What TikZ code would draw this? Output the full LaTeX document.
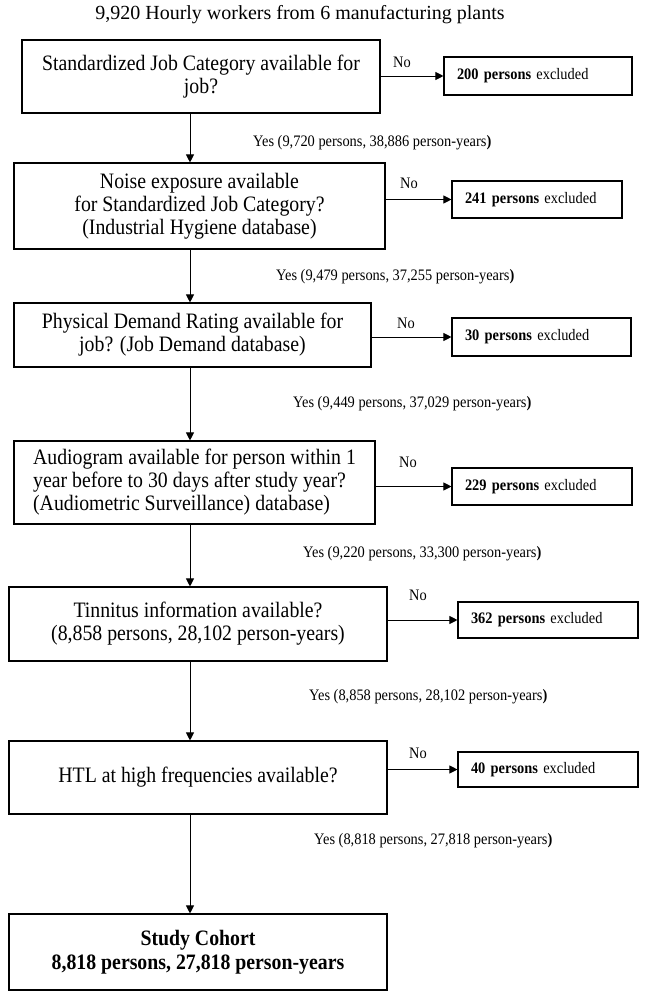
\documentclass[tikz,border=0pt]{standalone}
\usepackage{fontspec}
\setmainfont{Liberation Serif}
\newfontfamily\condfont[FakeStretch=0.9]{Liberation Serif}
\usetikzlibrary{arrows.meta}

\begin{document}
\begin{tikzpicture}[x=1pt, y=-1pt,
    stepbox/.style={draw, line width=1.1pt, align=center, inner sep=0pt, font=\condfont\fontsize{22}{23}\selectfont},
    exclbox/.style={draw, line width=1.1pt, align=left, inner xsep=13pt, inner ysep=0pt, font=\condfont\fontsize{16}{18}\selectfont},
    lbl/.style={inner sep=0pt, font=\condfont\fontsize{16}{18}\selectfont},
    arr/.style={line width=0.9pt, -{Triangle[length=8pt,width=8pt]}}]
  \useasboundingbox (0,0) rectangle (647,1000);

  \node[inner sep=0pt, font=\fontsize{20}{24}\selectfont] (title) at (300,15) {9,920 Hourly workers from 6 manufacturing plants};
  \coordinate (spine) at (190,0);

  % main column
  \node[stepbox, minimum width=358pt, minimum height=73pt] (B1) at (201,76.5) {Standardized Job Category available for\\job?};
  \node[stepbox, minimum width=371pt, minimum height=86pt] (B2) at (199.5,206) {Noise exposure available\\for Standardized Job Category?\\(Industrial Hygiene database)};
  \node[stepbox, minimum width=357pt, minimum height=64pt] (B3) at (192.5,335) {Physical Demand Rating available for\\job? (Job Demand database)};
  \node[stepbox, align=left, minimum width=361pt, minimum height=83pt] (B4) at (194.5,482.5) {Audiogram available for person within 1\\year before to 30 days after study year?\\(Audiometric Surveillance) database)};
  \node[stepbox, minimum width=378pt, minimum height=74pt] (B5) at (198,624) {Tinnitus information available?\\(8,858 persons, 28,102 person-years)};
  \node[stepbox, minimum width=378pt, minimum height=73pt] (B6) at (198,777.5) {HTL at high frequencies available?};
  \node[stepbox, minimum width=378pt, minimum height=76pt, font=\condfont\fontsize{22}{24}\selectfont\bfseries] (B7) at (198,952) {Study Cohort\\8,818 persons, 27,818 person-years};

  % exclusions
  \node[exclbox, text width=162pt, minimum height=38pt] (E1) at (538,76) {\textbf{200 persons} excluded};
  \node[exclbox, text width=144pt, minimum height=37pt] (E2) at (537,199.5) {\textbf{241 persons} excluded};
  \node[exclbox, text width=153pt, minimum height=38pt] (E3) at (541.5,337) {\textbf{30 persons} excluded};
  \node[exclbox, text width=154pt, minimum height=37pt] (E4) at (542,486.5) {\textbf{229 persons} excluded};
  \node[exclbox, text width=154pt, minimum height=36pt] (E5) at (548,620) {\textbf{362 persons} excluded};
  \node[exclbox, text width=154pt, minimum height=35pt] (E6) at (548,769.5) {\textbf{40 persons} excluded};

  % labels
  \node[lbl] (n1) at (402,62) {No};
  \node[lbl] (n2) at (409,183) {No};
  \node[lbl] (n3) at (406,323) {No};
  \node[lbl] (n4) at (408,462) {No};
  \node[lbl] (n5) at (418,595) {No};
  \node[lbl] (n6) at (418,753) {No};
  \node[lbl, anchor=west] (y1) at (253,143) {Yes (9,720 persons, 38,886 person-years\textbf{)}};
  \node[lbl, anchor=west] (y2) at (276,277) {Yes (9,479 persons, 37,255 person-years\textbf{)}};
  \node[lbl, anchor=west] (y3) at (293,404) {Yes (9,449 persons, 37,029 person-years\textbf{)}};
  \node[lbl, anchor=west] (y4) at (303,554) {Yes (9,220 persons, 33,300 person-years\textbf{)}};
  \node[lbl, anchor=west] (y5) at (309,697) {Yes (8,858 persons, 28,102 person-years\textbf{)}};
  \node[lbl, anchor=west] (y6) at (314,841) {Yes (8,818 persons, 27,818 person-years\textbf{)}};

  \foreach \a/\b in {B1/B2, B2/B3, B3/B4, B4/B5, B5/B6, B6/B7}
    \draw[arr] (\a.south -| spine) -- (\b.north -| spine);
  \foreach \n in {1,...,6}
    \draw[arr] (B\n.east |- E\n.west) -- (E\n.west);
\end{tikzpicture}
\end{document}
